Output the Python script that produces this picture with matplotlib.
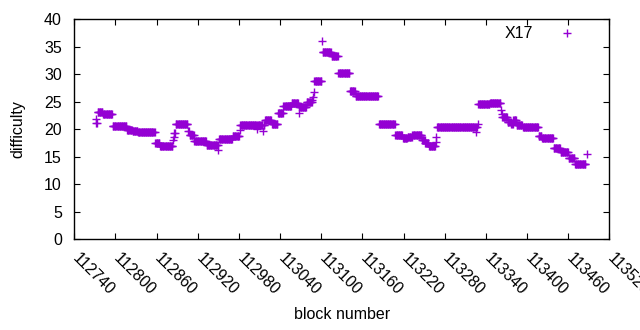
import numpy as np
import matplotlib
matplotlib.use("Agg")
import matplotlib.pyplot as plt
import matplotlib.transforms as mtransforms

plt.rcParams["font.family"] = ["Liberation Sans", "DejaVu Sans"]

seg_start = [112771, 112772, 112774, 112782, 112796, 112817, 112825, 112833,
             112858, 112865, 112884, 112885, 112886, 112888, 112906, 112908,
             112915, 112933, 112950, 112951, 112971, 112981, 112982, 113006,
             113007, 113015, 113016, 113018, 113028, 113037, 113045, 113057,
             113067, 113068, 113079, 113087, 113088, 113089, 113090, 113101,
             113102, 113115, 113125, 113142, 113150, 113184, 113208, 113219,
             113226, 113233, 113247, 113252, 113257, 113267, 113268, 113269,
             113325, 113326, 113328, 113329, 113346, 113362, 113363, 113364,
             113372, 113377, 113380, 113385, 113394, 113417, 113422, 113439,
             113449, 113461, 113470, 113488]
seg_end = [112771, 112773, 112781, 112795, 112816, 112824, 112832, 112857,
           112864, 112883, 112884, 112885, 112887, 112905, 112907, 112914,
           112932, 112949, 112950, 112970, 112980, 112981, 113005, 113006,
           113014, 113015, 113017, 113027, 113036, 113044, 113056, 113066,
           113067, 113078, 113086, 113087, 113088, 113089, 113100, 113101,
           113114, 113124, 113141, 113149, 113183, 113207, 113218, 113225,
           113232, 113246, 113251, 113256, 113266, 113267, 113268, 113324,
           113325, 113327, 113328, 113345, 113361, 113362, 113363, 113371,
           113376, 113379, 113384, 113393, 113416, 113421, 113438, 113448,
           113460, 113469, 113485, 113488]
seg_diff = [21.9, 21.1, 23.1, 22.7, 20.6, 19.9, 19.6, 19.4,
            17.5, 17.0, 18.0, 18.6, 19.3, 21.0, 19.7, 18.9,
            17.8, 17.1, 16.2, 18.2, 18.7, 19.9, 20.7, 20.0,
            20.7, 19.7, 20.7, 21.6, 21.0, 23.0, 24.3, 24.7,
            23.0, 24.1, 25.0, 25.3, 25.9, 26.8, 28.8, 36.0,
            34.0, 33.4, 30.3, 26.9, 26.0, 20.9, 18.9, 18.3,
            18.6, 19.0, 18.0, 17.5, 17.0, 17.6, 18.5, 20.3,
            19.5, 20.3, 21.0, 24.5, 24.7, 23.5, 22.8, 22.3,
            21.3, 20.9, 21.6, 20.8, 20.3, 18.8, 18.3, 16.5,
            15.9, 14.7, 13.7, 15.4]

xticks = list(range(112740, 113521, 60))
yticks = list(range(0, 41, 5))

blocks = []
diffs = []
for s, e, d in zip(seg_start, seg_end, seg_diff):
    for b in range(s, e + 1):
        blocks.append(b)
        diffs.append(d)

fig = plt.figure(figsize=(6.4, 3.3), dpi=100)
ax = fig.add_axes([0.1161, 0.2758, 0.952 - 0.1161, 0.9415 - 0.2758])

ax.plot(blocks, diffs, linestyle="none", marker="+", color="#9400d3",
        markersize=5.5, markeredgewidth=1.0, label="X17")

ax.set_xlim(112740, 113520)
ax.set_ylim(0, 40)
ax.set_xticks(xticks)
ax.set_yticks(yticks)
ax.set_xticklabels([str(t) for t in xticks], rotation=-45, ha="left",
                   va="top", rotation_mode="anchor")
ax.tick_params(direction="in", top=True, right=True, length=4.5,
               width=0.8, labelsize=11.5, pad=8)
ax.tick_params(axis="y", pad=9)

# nudge the slanted x labels to the right like the original
shift = mtransforms.ScaledTranslation(6 / 100, 0, fig.dpi_scale_trans)
for lbl in ax.get_xticklabels():
    lbl.set_transform(lbl.get_transform() + shift)

ax.set_xlabel("block number", fontsize=11.5, labelpad=7)
ax.set_ylabel("difficulty", fontsize=11.5, labelpad=13)

for sp in ax.spines.values():
    sp.set_linewidth(1.0)

ax.legend(loc="upper right", markerfirst=False, frameon=False, fontsize=11.5,
          bbox_to_anchor=(0.957, 1.0), borderaxespad=0.05,
          handlelength=1.5, handletextpad=1.4)

fig.savefig("out.png", dpi=100)
